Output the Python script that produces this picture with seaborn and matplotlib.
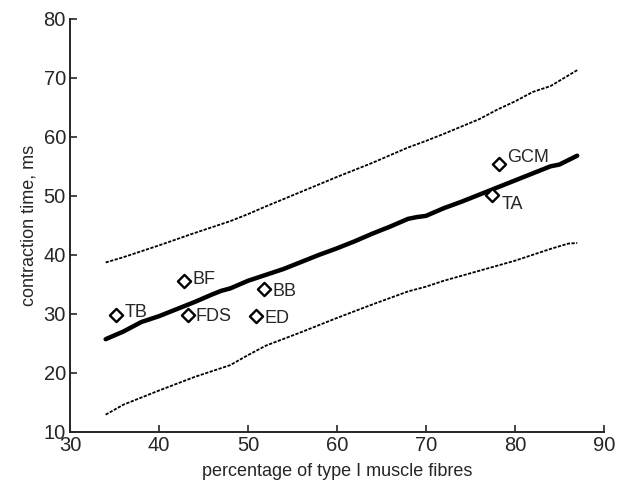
import pandas as pd
import matplotlib
matplotlib.use("Agg")
import matplotlib.pyplot as plt
import seaborn as sns

# muscle data points
muscles = ["TB", "BF", "FDS", "BB", "ED", "GCM", "TA"]
type1_pct = [35.2, 42.8, 43.2, 51.8, 50.9, 78.2, 77.4]
contraction_ms = [29.8, 35.5, 29.8, 34.2, 29.7, 55.4, 50.2]

# regression line and its bounds
fit_x = [34, 36, 38, 40, 42, 44, 46, 47, 48, 50, 52, 54, 56, 58, 60, 62, 64, 66,
         68, 69, 70, 72, 74, 76, 78, 80, 82, 84, 85, 87]
fit_y = [25.7, 27.0, 28.6, 29.6, 30.8, 32.0, 33.3, 33.9, 34.3, 35.6, 36.6, 37.6,
         38.8, 40.0, 41.1, 42.3, 43.6, 44.8, 46.1, 46.4, 46.6, 47.9, 49.0, 50.2,
         51.4, 52.6, 53.8, 55.0, 55.3, 56.8]
upper_x = [34, 36, 40, 44, 48, 50, 52, 56, 60, 64, 68, 70, 72, 76, 78, 80, 82, 84, 87]
upper_y = [38.7, 39.6, 41.6, 43.7, 45.7, 46.9, 48.2, 50.7, 53.2, 55.6, 58.2, 59.3,
           60.5, 63.0, 64.6, 66.0, 67.6, 68.6, 71.3]
lower_x = [34, 36, 40, 44, 46, 48, 50, 52, 56, 60, 64, 68, 70, 72, 76, 80, 84, 86, 87]
lower_y = [12.9, 14.6, 17.0, 19.3, 20.3, 21.3, 23.0, 24.6, 26.9, 29.3, 31.6, 33.8,
           34.6, 35.6, 37.3, 39.0, 41.0, 41.9, 42.0]

sns.set_style("ticks")
plt.rcParams["font.family"] = ["Liberation Sans", "DejaVu Sans"]

fig = plt.figure(figsize=(6.2, 4.83), dpi=100)
ax = fig.add_axes([0.113, 0.106, 0.861, 0.855])

sns.lineplot(x=fit_x, y=fit_y, ax=ax, color="black", linewidth=3.2, sort=False)
sns.lineplot(x=upper_x, y=upper_y, ax=ax, color="black", linewidth=1.3,
             linestyle=(0, (1.8, 0.8)), sort=False)
sns.lineplot(x=lower_x, y=lower_y, ax=ax, color="black", linewidth=1.3,
             linestyle=(0, (1.8, 0.8)), sort=False)

sns.scatterplot(x=type1_pct, y=contraction_ms, ax=ax, marker="D", s=45,
                facecolor="white", edgecolor="black", linewidth=1.7, zorder=5)

offsets = {"TB": (6, 2), "BF": (6, 1), "FDS": (6, -1), "BB": (6, -2),
           "ED": (6, -2), "GCM": (6, 5), "TA": (7, -7)}
for m, x, y in zip(muscles, type1_pct, contraction_ms):
    dx, dy = offsets[m]
    ax.annotate(m, (x, y), xytext=(dx, dy), textcoords="offset points",
                fontsize=13, va="center", ha="left")

ax.set_xlim(30, 90)
ax.set_ylim(10, 80)
ax.set_xticks(range(30, 91, 10))
ax.set_yticks(range(10, 81, 10))
ax.tick_params(direction="in", length=5, width=1.2, labelsize=14.5, pad=3)
ax.set_xlabel("percentage of type I muscle fibres", fontsize=13, labelpad=6)
ax.set_ylabel("contraction time, ms", fontsize=13, labelpad=4)
sns.despine(ax=ax)
for s in ["left", "bottom"]:
    ax.spines[s].set_linewidth(1.4)

fig.savefig("out.png", dpi=100)
